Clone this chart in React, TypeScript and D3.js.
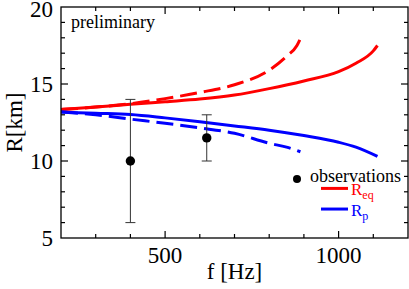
import React, { useEffect, useRef } from 'react';
import * as d3 from 'd3';

// model curves, f [Hz] -> R [km]
const reqSolidF = [200, 300, 400, 500, 600, 700, 800, 900, 1000, 1050, 1100, 1112];
const reqSolidR = [13.35, 13.5, 13.68, 13.85, 14.02, 14.28, 14.7, 15.2, 15.8, 16.35, 17.15, 17.5];
const reqDashF = [200, 300, 400, 500, 600, 700, 800, 850, 880, 890];
const reqDashR = [13.35, 13.5, 13.72, 14.05, 14.45, 14.95, 15.9, 16.8, 17.5, 17.95];
const rpSolidF = [200, 300, 400, 500, 600, 700, 800, 900, 1000, 1050, 1112];
const rpSolidR = [13.18, 13.1, 13.02, 12.8, 12.55, 12.28, 12.0, 11.65, 11.22, 10.9, 10.3];
const rpDashF = [200, 300, 400, 500, 600, 700, 800, 850, 890];
const rpDashR = [13.18, 13.0, 12.72, 12.45, 12.15, 11.8, 11.15, 10.9, 10.6];

// observations
const obsF = [400, 620];
const obsR = [10, 11.5];
const obsLo = [6, 10];
const obsHi = [14, 13];

const xMajor = [500, 1000];
const yMajor = [5, 10, 15, 20];

const App: React.FC = () => {
  const svgRef = useRef<SVGSVGElement>(null);

  useEffect(() => {
    if (!svgRef.current) return;
    const svg = d3.select(svgRef.current);
    svg.selectAll('*').remove();

    const left = 61, right = 408, top = 7, bottom = 238;
    const x = d3.scaleLinear().domain([200, 1200]).range([left, right]);
    const y = d3.scaleLinear().domain([5, 20]).range([bottom, top]);
    const font = "'Liberation Serif', 'Times New Roman', Times, serif";

    const line = d3.line<[number, number]>()
      .x(d => x(d[0]))
      .y(d => y(d[1]))
      .curve(d3.curveMonotoneX);

    const curves = [
      { f: reqSolidF, r: reqSolidR, color: '#ff0000', dash: null },
      { f: reqDashF, r: reqDashR, color: '#ff0000', dash: '17,7' },
      { f: rpSolidF, r: rpSolidR, color: '#0000ff', dash: null },
      { f: rpDashF, r: rpDashR, color: '#0000ff', dash: '17,7' },
    ];
    curves.forEach(c => {
      svg.append('path')
        .datum(c.f.map((f, i) => [f, c.r[i]] as [number, number]))
        .attr('d', line)
        .attr('fill', 'none')
        .attr('stroke', c.color)
        .attr('stroke-width', 3)
        .attr('stroke-dasharray', c.dash);
    });

    // error bars and points
    obsF.forEach((f, i) => {
      const g = svg.append('g').attr('stroke', '#333').attr('stroke-width', 1);
      g.append('line').attr('x1', x(f)).attr('x2', x(f)).attr('y1', y(obsLo[i])).attr('y2', y(obsHi[i]));
      [obsLo[i], obsHi[i]].forEach(v => {
        g.append('line').attr('x1', x(f) - 5).attr('x2', x(f) + 5).attr('y1', y(v)).attr('y2', y(v));
      });
      svg.append('circle').attr('cx', x(f)).attr('cy', y(obsR[i])).attr('r', 4.7).attr('fill', '#000');
    });

    // frame
    svg.append('rect')
      .attr('x', left).attr('y', top)
      .attr('width', right - left).attr('height', bottom - top)
      .attr('fill', 'none').attr('stroke', '#000').attr('stroke-width', 1.3);

    // ticks (inward, mirrored)
    const ticks = svg.append('g').attr('stroke', '#000').attr('stroke-width', 1.2);
    d3.range(300, 1200, 100).forEach(f => {
      const len = xMajor.includes(f) ? 7 : 4;
      ticks.append('line').attr('x1', x(f)).attr('x2', x(f)).attr('y1', bottom).attr('y2', bottom - len);
      ticks.append('line').attr('x1', x(f)).attr('x2', x(f)).attr('y1', top).attr('y2', top + len);
    });
    d3.range(6, 20, 1).forEach(r => {
      const len = yMajor.includes(r) ? 7 : 4;
      ticks.append('line').attr('x1', left).attr('x2', left + len).attr('y1', y(r)).attr('y2', y(r));
      ticks.append('line').attr('x1', right).attr('x2', right - len).attr('y1', y(r)).attr('y2', y(r));
    });

    const text = (tx: number, ty: number, s: string, size: number, anchor = 'start', color = '#000') =>
      svg.append('text')
        .attr('x', tx).attr('y', ty)
        .style('font-family', font).style('font-size', `${size}px`)
        .attr('text-anchor', anchor).attr('fill', color)
        .text(s);

    yMajor.forEach(r => text(53, Math.max(y(r) + 8, 17), String(r), 23, 'end'));
    xMajor.forEach(f => text(x(f), 263, String(f), 23, 'middle'));
    text((left + right) / 2, 279, 'f [Hz]', 23, 'middle');
    text(0, 0, 'R[km]', 23, 'middle').attr('transform', `translate(22,${(top + bottom) / 2}) rotate(-90)`);
    text(71, 28, 'preliminary', 18);

    // legend
    svg.append('circle').attr('cx', 297).attr('cy', 179).attr('r', 4).attr('fill', '#000');
    text(310, 182, 'observations', 18);
    const legend = [
      { color: '#ff0000', sub: 'eq', ly: y(8.22) },
      { color: '#0000ff', sub: 'p', ly: y(6.88) },
    ];
    legend.forEach(l => {
      svg.append('line').attr('x1', 321).attr('x2', 348).attr('y1', l.ly).attr('y2', l.ly)
        .attr('stroke', l.color).attr('stroke-width', 3);
      const t = text(351, l.ly + 7, 'R', 17, 'start', l.color);
      t.append('tspan').style('font-size', '12px').attr('dy', 4).text(l.sub);
    });
  }, []);

  return (
    <svg
      ref={svgRef}
      width={409}
      height={289}
      style={{ position: 'absolute', left: 0, top: 0, background: '#fff' }}
    />
  );
};

export default App;
